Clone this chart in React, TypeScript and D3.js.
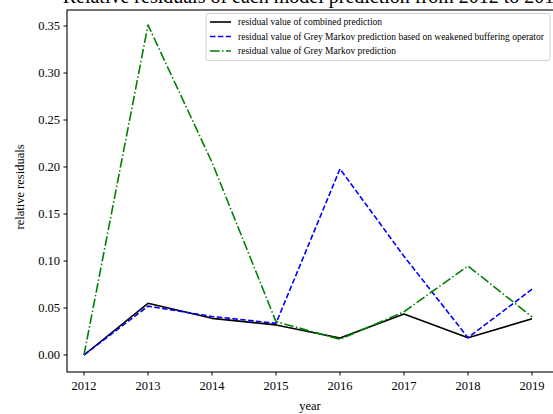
import React from "react";
import * as d3 from "d3";

const years = [2012, 2013, 2014, 2015, 2016, 2017, 2018, 2019];
const combined = [0.0, 0.055, 0.039, 0.032, 0.018, 0.0436, 0.0184, 0.0385];
const greyMarkovWeakened = [0.0, 0.052, 0.041, 0.0337, 0.198, 0.105, 0.0184, 0.07];
const greyMarkov = [0.0, 0.351, 0.205, 0.0355, 0.0167, 0.046, 0.0947, 0.0405];
const yTicks = [0.0, 0.05, 0.1, 0.15, 0.2, 0.25, 0.3, 0.35];

const seriesList = [
  { name: "residual value of combined prediction", values: combined, color: "#000000", dash: "" },
  { name: "residual value of Grey Markov prediction based on weakened buffering operator", values: greyMarkovWeakened, color: "#0000ff", dash: "5.5,2.4" },
  { name: "residual value of Grey Markov prediction", values: greyMarkov, color: "#008000", dash: "9.6,2.4,1.5,2.4" },
];

const FONT = "'Liberation Serif', 'Times New Roman', serif";

export default function App() {
  const W = 553, H = 414;
  const left = 67, right = 560, top = 10, bottom = 372;
  const x = d3.scaleLinear().domain([2012, 2019]).range([84, 532]);
  const y = d3.scaleLinear().domain([0, 0.35]).range([355, 26]);
  const line = d3.line<number>().x((_, i) => x(years[i])).y((d) => y(d));

  return (
    <svg width={W} height={H} style={{ position: "fixed", left: 0, top: 0, background: "#fff" }}>
      <defs>
        <clipPath id="plot">
          <rect x={left} y={top} width={right - left} height={bottom - top} />
        </clipPath>
      </defs>
      <rect x={0} y={0} width={W} height={H} fill="#fff" />
      <text x={(left + right) / 2} y={3} textAnchor="middle" fontFamily={FONT} fontSize={20} fill="#000">
        Relative residuals of each model prediction from 2012 to 2019
      </text>
      <g clipPath="url(#plot)">
        {seriesList.map((s) => (
          <path key={s.name} d={line(s.values) || ""} fill="none" stroke={s.color} strokeWidth={1.6} strokeDasharray={s.dash} strokeLinejoin="round" />
        ))}
      </g>
      <rect x={left} y={top} width={right - left} height={bottom - top} fill="none" stroke="#000" strokeWidth={1.1} />
      {yTicks.map((t) => (
        <g key={t}>
          <line x1={left} x2={left - 3.5} y1={y(t)} y2={y(t)} stroke="#000" strokeWidth={1} />
          <text x={left - 7} y={y(t)} dy="0.35em" textAnchor="end" fontFamily={FONT} fontSize={12.5} fill="#000">
            {t.toFixed(2)}
          </text>
        </g>
      ))}
      {years.map((yr) => (
        <g key={yr}>
          <line x1={x(yr)} x2={x(yr)} y1={bottom} y2={bottom + 3.5} stroke="#000" strokeWidth={1} />
          <text x={x(yr)} y={bottom + 18} textAnchor="middle" fontFamily={FONT} fontSize={12.5} fill="#000">
            {yr}
          </text>
        </g>
      ))}
      <text x={310} y={410} textAnchor="middle" fontFamily={FONT} fontSize={12.5} fill="#000">year</text>
      <text transform={`translate(24,187) rotate(-90)`} textAnchor="middle" fontFamily={FONT} fontSize={12.5} fill="#000">
        relative residuals
      </text>
      <g>
        <rect x={206} y={13.5} width={344} height={47} rx={2} fill="#fff" fillOpacity={0.8} stroke="#d0d0d0" strokeWidth={1} />
        {seriesList.map((s, i) => {
          const ly = 22 + i * 14.5;
          return (
            <g key={s.name}>
              <line x1={210} x2={231} y1={ly} y2={ly} stroke={s.color} strokeWidth={1.6} strokeDasharray={s.dash} />
              <text x={238} y={ly} dy="0.32em" fontFamily={FONT} fontSize={9.5} fill="#000">{s.name}</text>
            </g>
          );
        })}
      </g>
    </svg>
  );
}
